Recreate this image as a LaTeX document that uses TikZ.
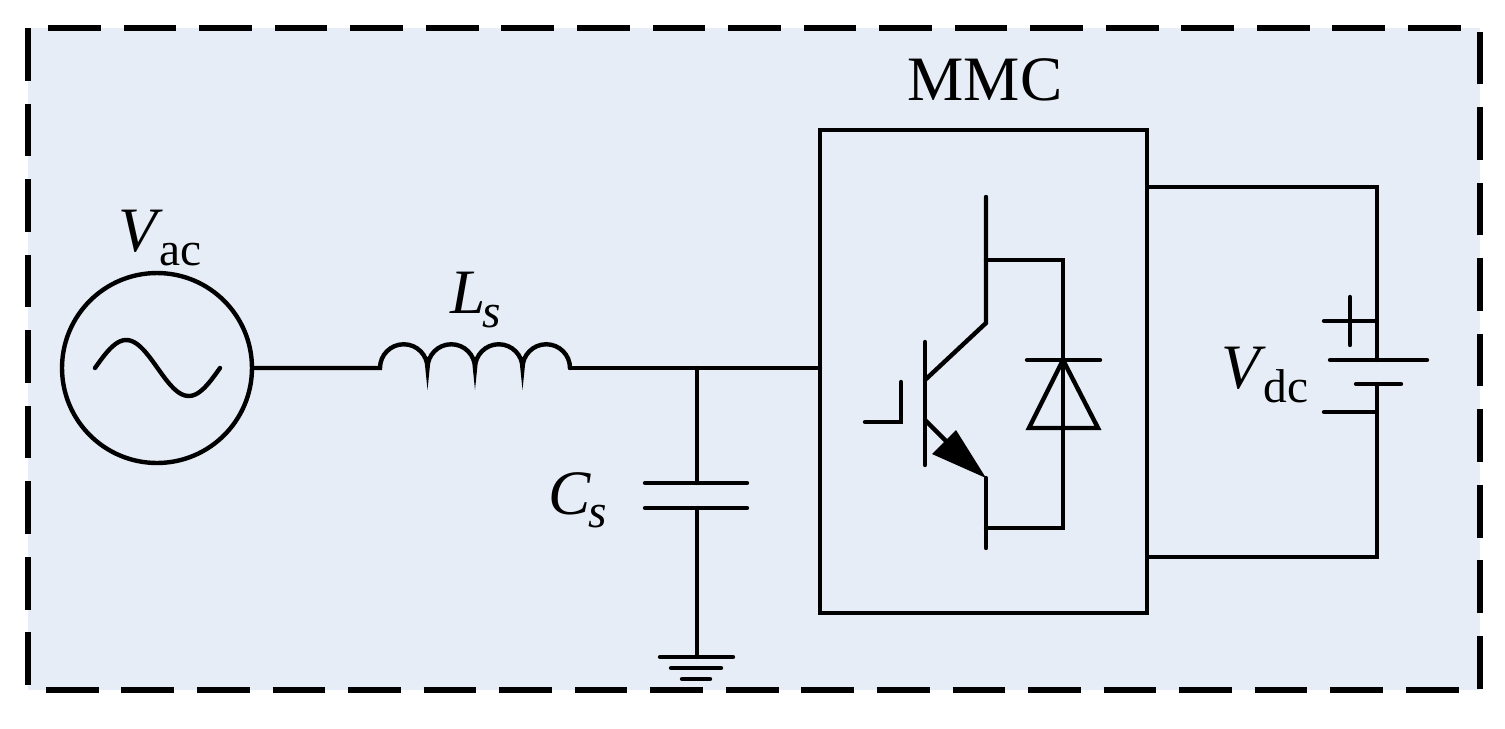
\documentclass[tikz,border=0pt]{standalone}
\usepackage{fontspec}
\setmainfont{Liberation Serif}
\usetikzlibrary{positioning}
\definecolor{panel}{RGB}{230,237,246}
\newcommand{\symsub}[2]{\textit{#1}\kern-0.05em\raisebox{-0.45ex}{\fontsize{27}{30}\selectfont #2}}
\tikzset{
  wire/.style={line width=2.5pt, line cap=round},
  lbl/.style={font=\fontsize{36}{42}\selectfont, inner sep=0pt}
}
\begin{document}
\begin{tikzpicture}[x=0.02cm, y=-0.02cm]
    \useasboundingbox (0,0) rectangle (1505,728);

    % panel
    \draw[fill=panel, line width=3.4pt, dash pattern=on 30pt off 13pt] (28,28) rectangle (1480,690);

    % ac source
    \node[draw, circle, line width=2.5pt, minimum size=3.8cm, inner sep=0pt] (src) at (157,368) {};
    \draw[wire] plot[domain=0:360, samples=50] ({95+\x/360*125},{368-28*sin(\x)});
    \node[lbl] (vac) at (160,238) {\symsub{V}{ac}};

    % inductor
    \coordinate (la) at (380,368);
    \coordinate (lb) at (570,368);
    \draw[wire] (src.east) -- (la)
        arc (180:360:23.75) arc (180:360:23.75) arc (180:360:23.75) arc (180:360:23.75);
    \node[lbl] (ls) at (476,300) {\symsub{L}{\textit{s}}};

    % line and capacitor
    \coordinate (jn) at (697,368);
    \coordinate (ct) at (697,483);
    \coordinate (cb) at (697,508);
    \coordinate (gnd) at (697,657);
    \draw[wire] (lb) -- (820,368);
    \draw[wire] (jn) -- (ct);
    \draw[wire] (645,483) -- (747,483);
    \draw[wire] (645,508) -- (747,508);
    \draw[wire] (cb) -- (gnd);
    \draw[wire] (660,657) -- (733,657);
    \draw[wire] (671,668) -- (721,668);
    \draw[wire] (682,679) -- (710,679);
    \node[lbl] (cs) at (578,500) {\symsub{C}{\textit{s}}};

    % MMC block
    \node[draw, line width=2.5pt, minimum width=6.54cm, minimum height=9.66cm, inner sep=0pt] (mmc) at (983.5,371.5) {};
    \node[lbl] (title) at (985,80) {MMC};

    % IGBT
    \draw[wire] (986,197) -- (986,323) -- (925,380);
    \draw[wire] (925,342) -- (925,465);
    \draw[wire] (901,382) -- (901,422) -- (865,422);
    \draw[wire] (925,420) -- (960,455);
    \fill (986,478) -- (932,454) -- (956,430) -- cycle;
    \draw[wire] (986,478) -- (986,548);

    % diode
    \draw[wire] (986,260) -- (1063,260) -- (1063,528) -- (986,528);
    \draw[wire] (1027,360) -- (1100,360);
    \draw[wire] (1063,360) -- (1029,428) -- (1098,428) -- cycle;

    % dc side
    \draw[wire] (1148,187) -- (1377,187) -- (1377,360);
    \draw[wire] (1330,360) -- (1427,360);
    \draw[wire] (1356,384) -- (1401,384);
    \draw[wire] (1377,384) -- (1377,557) -- (1148,557);
    \draw[wire] (1324,321) -- (1375,321);
    \draw[wire] (1350,297) -- (1350,345);
    \draw[wire] (1324,412) -- (1375,412);
    \node[lbl] (vdc) at (1265,375) {\symsub{V}{dc}};
\end{tikzpicture}
\end{document}
